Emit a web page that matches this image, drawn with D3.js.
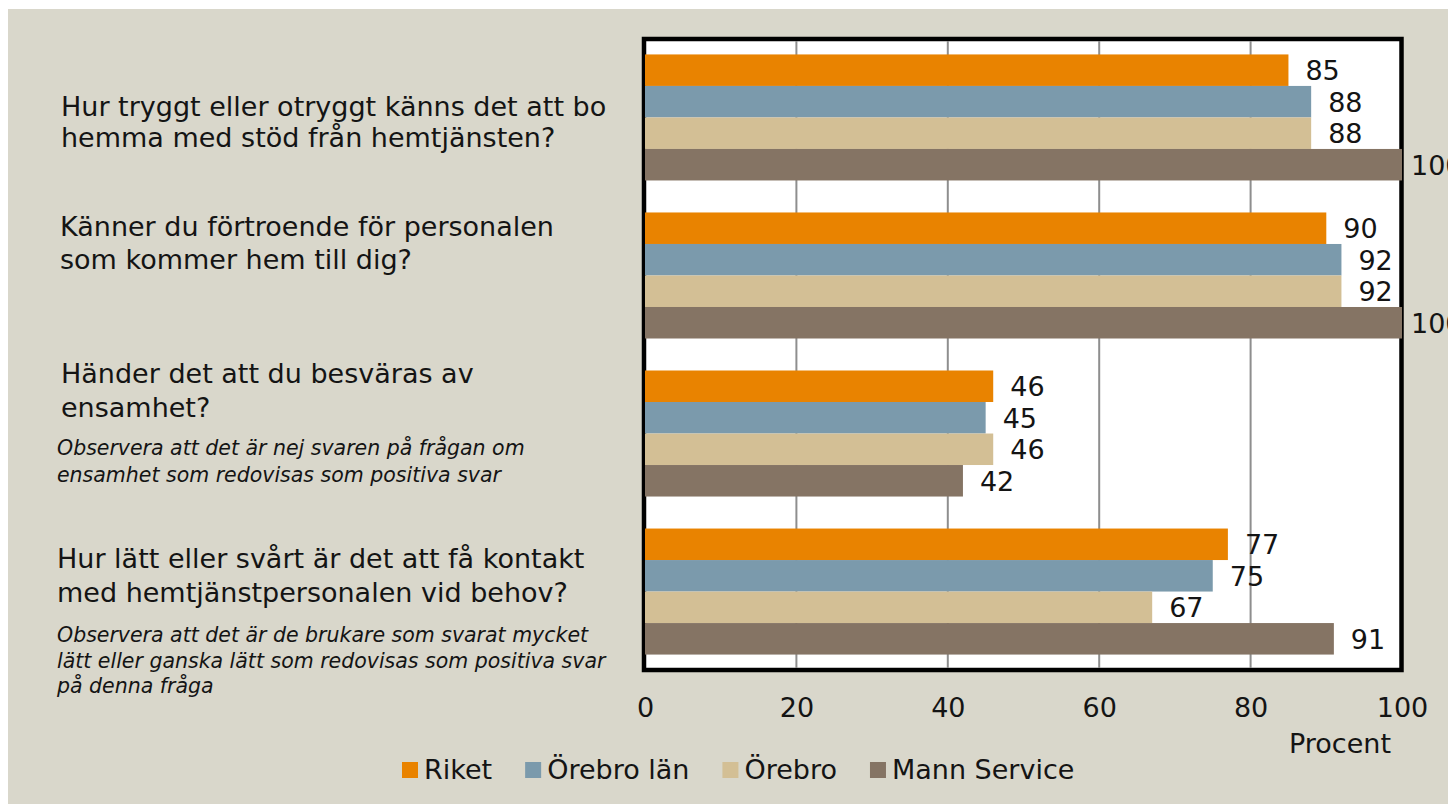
<!DOCTYPE html>
<html>
<head>
<meta charset="utf-8">
<script src="https://cdn.jsdelivr.net/npm/d3@7"></script>
<style>
  html, body { margin: 0; padding: 0; background: #ffffff; }
  svg text { font-family: "DejaVu Sans", sans-serif; fill: #141414; }
</style>
</head>
<body>
<div id="chart"></div>
<script>
// data
var questions = ["q1", "q2", "q3", "q4"];
var seriesNames = ["Riket", "Örebro län", "Örebro", "Mann Service"];
var riket = [85, 90, 46, 77];
var orebroLan = [88, 92, 45, 75];
var orebro = [88, 92, 46, 67];
var mannService = [100, 100, 42, 91];
var xTicks = [0, 20, 40, 60, 80, 100];
var questionLines = [
    ["Hur tryggt eller otryggt känns det att bo", "hemma med stöd från hemtjänsten?"],
    ["Känner du förtroende för personalen", "som kommer hem till dig?"],
    ["Händer det att du besväras av", "ensamhet?"],
    ["Hur lätt eller svårt är det att få kontakt", "med hemtjänstpersonalen vid behov?"]
];
var noteLines = [
    [],
    [],
    ["Observera att det är nej svaren på frågan om", "ensamhet som redovisas som positiva svar"],
    ["Observera att det är de brukare som svarat mycket", "lätt eller ganska lätt som redovisas som positiva svar", "på denna fråga"]
];
var axisTitle = "Procent";

var colors = ["#E98300", "#7B9AAC", "#D3BF95", "#857464"];
var seriesValues = [riket, orebroLan, orebro, mannService];

var svgWidth = 1448;
var svgHeight = 804;

var svg = d3.select("#chart")
    .append("svg")
    .attr("width", svgWidth)
    .attr("height", svgHeight);

// slide background (white strip at top and left)
svg.append("rect")
    .attr("x", 8).attr("y", 9)
    .attr("width", svgWidth - 8).attr("height", svgHeight - 9)
    .attr("fill", "#D9D7CB");

// scales
var xScale = d3.scaleLinear().domain([0, 100]).range([645, 1402]);
var yScale = d3.scaleBand().domain(questions).range([41, 668])
    .paddingInner(0.2025).paddingOuter(0.085);
var ySub = d3.scaleBand().domain(seriesNames).range([0, yScale.bandwidth()]);

// plot frame
svg.append("rect")
    .attr("x", 644).attr("y", 39)
    .attr("width", 1401.5 - 644).attr("height", 670 - 39)
    .attr("fill", "#ffffff")
    .attr("stroke", "#000000")
    .attr("stroke-width", 4.5);

// gridlines
svg.append("g").selectAll("line")
    .data(xTicks.filter(d => d > 0 && d < 100))
    .enter()
    .append("line")
    .attr("x1", d => xScale(d)).attr("x2", d => xScale(d))
    .attr("y1", 41).attr("y2", 668)
    .attr("stroke", "#8E8E8E")
    .attr("stroke-width", 2);

// bars
var groups = svg.append("g").selectAll("g")
    .data(questions)
    .enter()
    .append("g")
    .attr("transform", d => `translate(0, ${yScale(d)})`);

groups.each(function(q, qi) {
    var g = d3.select(this);
    seriesNames.forEach(function(name, si) {
        var v = seriesValues[si][qi];
        g.append("rect")
            .attr("x", xScale(0))
            .attr("y", ySub(name))
            .attr("width", xScale(v) - xScale(0))
            .attr("height", ySub.bandwidth())
            .attr("fill", colors[si]);
        g.append("text")
            .attr("x", xScale(v) + (v >= 100 ? 9 : 17))
            .attr("y", ySub(name) + ySub.bandwidth() / 2 + 10)
            .attr("font-size", "27px")
            .text(v);
    });
});

// x axis labels
var xAxis = d3.axisBottom(xScale).tickValues(xTicks).tickSize(0).tickPadding(0);
var axisG = svg.append("g")
    .attr("transform", "translate(0, 697)")
    .call(xAxis);
axisG.select(".domain").remove();
axisG.selectAll("text")
    .attr("dy", null)
    .attr("y", 20)
    .attr("font-size", "27px")
    .attr("font-family", "DejaVu Sans, sans-serif")
    .attr("fill", "#141414");

svg.append("text")
    .attr("x", 1340).attr("y", 753)
    .attr("text-anchor", "middle")
    .attr("font-size", "27px")
    .text(axisTitle);

// question labels (x, baseline offsets from band start)
var labelLayout = [
    { x: 61, lines: [62, 93], notes: [] },
    { x: 60, lines: [24, 57], notes: [] },
    { x: 61, lines: [12, 46], notes: [84, 111] },
    { x: 57, lines: [39, 73], notes: [113, 139, 164] }
];

questions.forEach(function(q, qi) {
    var lay = labelLayout[qi];
    var top = yScale(q);
    questionLines[qi].forEach(function(line, li) {
        svg.append("text")
            .attr("x", lay.x)
            .attr("y", top + lay.lines[li])
            .attr("font-size", "27px")
            .text(line);
    });
    noteLines[qi].forEach(function(line, li) {
        svg.append("text")
            .attr("x", 57)
            .attr("y", top + lay.notes[li])
            .attr("font-size", "20.5px")
            .attr("font-style", "italic")
            .text(line);
    });
});

// legend
var legend = svg.append("g");
var lx = 402;
seriesNames.forEach(function(name, si) {
    legend.append("rect")
        .attr("x", lx).attr("y", 762)
        .attr("width", 16).attr("height", 16)
        .attr("fill", colors[si]);
    var t = legend.append("text")
        .attr("x", lx + 22).attr("y", 779)
        .attr("font-size", "27px")
        .text(name);
    lx = lx + 22 + t.node().getComputedTextLength() + 33;
});
</script>
</body>
</html>
